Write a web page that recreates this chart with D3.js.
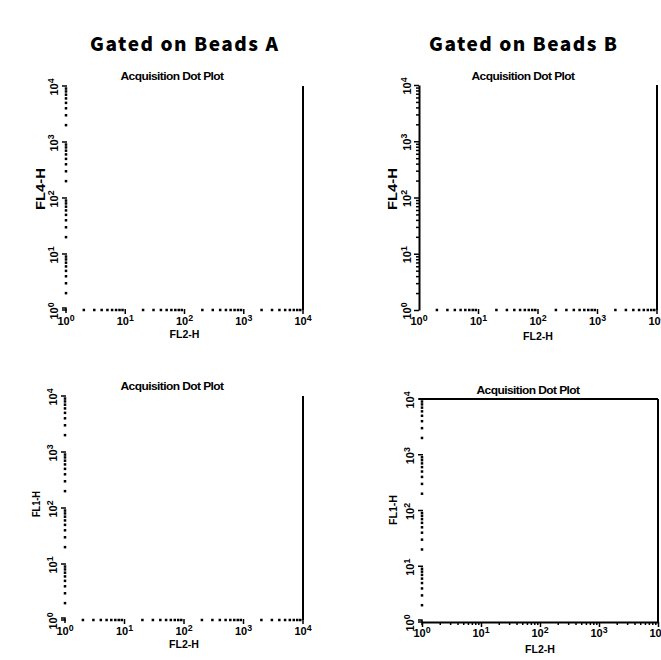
<!DOCTYPE html>
<html>
<head>
<meta charset="utf-8">
<script src="https://cdn.jsdelivr.net/npm/d3@7"></script>
<style>
  body { margin: 0; background: #fff; }
  svg { display: block; }
</style>
</head>
<body>
<div id="chart"></div>
<script>
// chart values
const columnTitles = ["Gated on Beads A", "Gated on Beads B"];
const plotTitle = "Acquisition Dot Plot";
const xAxisLabel = "FL2-H";
const yAxisLabels = ["FL4-H", "FL4-H", "FL1-H", "FL1-H"];
const decadeExponents = [0, 1, 2, 3, 4];
const axisDomain = [1, 10000];

const width = 661;
const height = 660;

// panel layout (pixel frame + how each edge is drawn)
const panels = [
  { left: 66, right: 303, top: 86, bottom: 310, xSolid: false, ySolid: false, topLine: false,
    titleX: 172, titleY: 80, xLabY: 338, yLabX: 45, yLabY: 189, yLabSize: 13, yLabLen: 42 },
  { left: 419, right: 657, top: 85, bottom: 310, xSolid: false, ySolid: true, topLine: false,
    titleX: 523, titleY: 80, xLabY: 340, yLabX: 397, yLabY: 189, yLabSize: 13, yLabLen: 42 },
  { left: 65, right: 303, top: 396, bottom: 620, xSolid: false, ySolid: false, topLine: false,
    titleX: 172, titleY: 390, xLabY: 648, yLabX: 40, yLabY: 504, yLabSize: 10, yLabLen: 26 },
  { left: 422, right: 658, top: 399, bottom: 622, xSolid: true, ySolid: false, topLine: true,
    titleX: 528, titleY: 394, xLabY: 653, yLabX: 397, yLabY: 510, yLabSize: 10, yLabLen: 30 }
];

const svg = d3.select("#chart")
  .append("svg")
  .attr("width", width)
  .attr("height", height);

// column headings
svg.selectAll(".col-title")
  .data(columnTitles)
  .enter()
  .append("text")
  .attr("class", "col-title")
  .attr("x", (d, i) => i === 0 ? 184 : 523)
  .attr("y", 51)
  .attr("text-anchor", "middle")
  .attr("textLength", 188)
  .attr("lengthAdjust", "spacing")
  .style("font-family", "'Noto Sans CJK SC', 'DejaVu Sans', sans-serif")
  .style("font-weight", "900")
  .style("font-size", "19px")
  .text(d => d);

function powLabel(sel, exp, size) {
  sel.append("tspan").text("10").style("font-size", size + "px");
  sel.append("tspan").text(exp)
    .attr("dy", -size * 0.4)
    .style("font-size", (size * 0.8) + "px");
}

panels.forEach((p, pi) => {
  const x = d3.scaleLog().domain(axisDomain).range([p.left, p.right]);
  const y = d3.scaleLog().domain(axisDomain).range([p.bottom, p.top]);
  const g = svg.append("g");

  const allTicks = x.ticks();
  const isMajor = v => Math.abs(Math.log10(v) - Math.round(Math.log10(v))) < 1e-9;
  const minor = allTicks.filter(v => !isMajor(v));
  const major = allTicks.filter(isMajor);

  // plot title
  g.append("text")
    .attr("x", p.titleX)
    .attr("y", p.titleY)
    .attr("text-anchor", "middle")
    .attr("textLength", 103)
    .attr("lengthAdjust", "spacingAndGlyphs")
    .style("font-family", "'Liberation Sans', Arial, sans-serif")
    .style("font-weight", "bold")
    .style("font-size", "10.5px")
    .style("letter-spacing", "-0.5px")
    .text(plotTitle);

  // x axis
  if (p.xSolid) {
    g.append("g")
      .attr("transform", `translate(0,${p.bottom})`)
      .call(d3.axisBottom(x).tickValues(minor).tickSize(3).tickFormat(""))
      .call(a => a.select(".domain").remove())
      .selectAll("line").attr("stroke-width", 1.5);
    g.append("g")
      .attr("transform", `translate(0,${p.bottom})`)
      .call(d3.axisBottom(x).tickValues(major).tickSize(5).tickFormat("").tickSizeOuter(0))
      .call(a => a.select(".domain").attr("stroke-width", 2))
      .selectAll("line").attr("stroke-width", 1.5);
  } else {
    g.selectAll(".xdot")
      .data(minor)
      .enter()
      .append("rect")
      .attr("x", d => x(d) - 1.25)
      .attr("y", p.bottom - 1.25)
      .attr("width", 2.5)
      .attr("height", 2.5)
      .attr("fill", "#000");
    g.selectAll(".xmaj")
      .data(major.slice(1))
      .enter()
      .append("line")
      .attr("x1", d => x(d))
      .attr("x2", d => x(d))
      .attr("y1", p.bottom - 1)
      .attr("y2", p.bottom + 4)
      .attr("stroke", "#000")
      .attr("stroke-width", 1.5);
  }

  // y axis
  if (p.ySolid) {
    g.append("g")
      .attr("transform", `translate(${p.left},0)`)
      .call(d3.axisLeft(y).tickValues(minor).tickSize(3).tickFormat(""))
      .call(a => a.select(".domain").remove())
      .selectAll("line").attr("stroke-width", 1.5);
    g.append("g")
      .attr("transform", `translate(${p.left},0)`)
      .call(d3.axisLeft(y).tickValues(major).tickSize(5).tickFormat("").tickSizeOuter(0))
      .call(a => a.select(".domain").attr("stroke-width", 2))
      .selectAll("line").attr("stroke-width", 1.5);
  } else {
    g.selectAll(".ydot")
      .data(minor)
      .enter()
      .append("rect")
      .attr("x", p.left - 1.25)
      .attr("y", d => y(d) - 1.25)
      .attr("width", 2.5)
      .attr("height", 2.5)
      .attr("fill", "#000");
    g.selectAll(".ymaj")
      .data(major)
      .enter()
      .append("line")
      .attr("x1", p.left - 4)
      .attr("x2", p.left + 1)
      .attr("y1", d => y(d))
      .attr("y2", d => y(d))
      .attr("stroke", "#000")
      .attr("stroke-width", 1.5);
    // corner hook at the origin
    g.append("path")
      .attr("d", `M${p.left - 4},${p.bottom - 2} L${p.left},${p.bottom - 2} L${p.left},${p.bottom + 3}`)
      .attr("fill", "none")
      .attr("stroke", "#000")
      .attr("stroke-width", 1.5);
  }

  // frame: right edge (and top edge in the last panel)
  g.append("line")
    .attr("x1", p.right).attr("x2", p.right)
    .attr("y1", p.top).attr("y2", p.bottom)
    .attr("stroke", "#000").attr("stroke-width", 2);
  if (p.topLine) {
    g.append("line")
      .attr("x1", p.left - 3).attr("x2", p.right)
      .attr("y1", p.top).attr("y2", p.top)
      .attr("stroke", "#000").attr("stroke-width", 2);
  }

  // x tick labels
  g.selectAll(".xlab")
    .data(decadeExponents)
    .enter()
    .append("text")
    .attr("x", d => x(Math.pow(10, d)))
    .attr("y", p.bottom + 15)
    .attr("text-anchor", "middle")
    .style("font-family", "'Liberation Sans', Arial, sans-serif")
    .style("font-weight", "bold")
    .each(function (d) { powLabel(d3.select(this), d, 11); });

  // y tick labels (rotated)
  g.selectAll(".ylab")
    .data(decadeExponents)
    .enter()
    .append("text")
    .attr("transform", d => `translate(${p.left - 8},${y(Math.pow(10, d)) + 1}) rotate(-90)`)
    .attr("text-anchor", "middle")
    .style("font-family", "'Liberation Sans', Arial, sans-serif")
    .style("font-weight", "bold")
    .each(function (d) { powLabel(d3.select(this), d, 11); });

  // axis labels
  g.append("text")
    .attr("x", (p.left + p.right) / 2)
    .attr("y", p.xLabY)
    .attr("text-anchor", "middle")
    .attr("textLength", 30)
    .attr("lengthAdjust", "spacingAndGlyphs")
    .style("font-family", "'Liberation Sans', Arial, sans-serif")
    .style("font-weight", "bold")
    .style("font-size", "10px")
    .text(xAxisLabel);

  g.append("text")
    .attr("transform", `translate(${p.yLabX},${p.yLabY}) rotate(-90)`)
    .attr("text-anchor", "middle")
    .attr("textLength", p.yLabLen)
    .attr("lengthAdjust", "spacingAndGlyphs")
    .style("font-family", "'Liberation Sans', Arial, sans-serif")
    .style("font-weight", "bold")
    .style("font-size", p.yLabSize + "px")
    .text(yAxisLabels[pi]);
});
</script>
</body>
</html>
